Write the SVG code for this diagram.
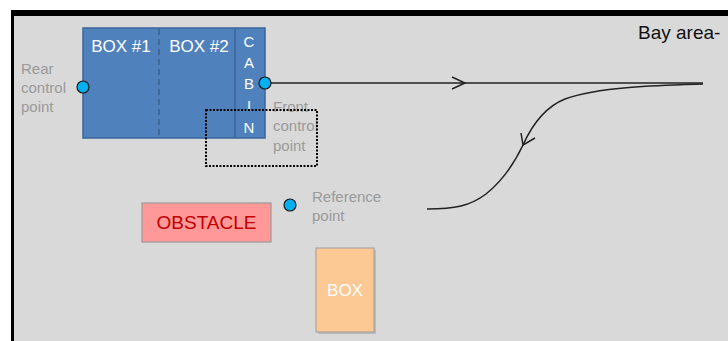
<svg xmlns="http://www.w3.org/2000/svg" width="728" height="341" viewBox="0 0 728 341">
<style>
.lbl{font-family:"Liberation Sans",Arial,sans-serif;font-size:15px;fill:#9a9a9a}
.wt{font-family:"Liberation Sans",Arial,sans-serif;fill:#ffffff}
.pt{fill:#00b0f0;stroke:#1a1a1a;stroke-width:1.2}
.ln{fill:none;stroke:#222;stroke-width:1.5}
</style>
<rect width="728" height="341" fill="#ffffff"/>
<rect x="12" y="13" width="716" height="328" fill="#d9d9d9"/>
<rect x="11" y="10" width="717" height="6" fill="#000"/>
<rect x="11" y="10" width="3" height="331" fill="#000"/>
<text x="638" y="39" font-family="Liberation Sans,Arial,sans-serif" font-size="19" fill="#111">Bay area-</text>
<g id="train">
<rect x="83" y="28" width="182" height="110" fill="#4f81bd" stroke="#3a659a" stroke-width="1.5"/>
<line x1="159" y1="29" x2="159" y2="137" stroke="#3a5f8f" stroke-width="1.5" stroke-dasharray="6,4"/>
<line x1="235" y1="29" x2="235" y2="137" stroke="#3a659a" stroke-width="1.5"/>
<text class="wt" x="121" y="52" font-size="17" text-anchor="middle">BOX #1</text>
<text class="wt" x="199" y="52" font-size="17" text-anchor="middle">BOX #2</text>
<g class="wt" font-size="15" text-anchor="middle">
<text x="249" y="47">C</text>
<text x="249" y="68">A</text>
<text x="249" y="89">B</text>
<text x="249" y="111">I</text>
<text x="249" y="133">N</text>
</g>
</g>
<g id="rear-point">
<circle class="pt" cx="83" cy="87" r="6"/>
<text class="lbl" x="21" y="74">Rear</text>
<text class="lbl" x="21" y="93">control</text>
<text class="lbl" x="21" y="112">point</text>
</g>
<g id="front-point">
<text class="lbl" x="273" y="112">Front</text>
<text class="lbl" x="273" y="131">control</text>
<text class="lbl" x="273" y="151">point</text>
<rect x="206" y="110" width="111" height="56" fill="none" stroke="#000" stroke-width="2" stroke-dasharray="2,1.5"/>
</g>
<g id="connectors">
<line class="ln" x1="265" y1="83" x2="703" y2="83"/>
<polyline class="ln" points="452,77 465,83 452,89"/>
<path class="ln" d="M703,84 C670,85 600,86 565,99 C545,107 532,125 523,145 C512,168 500,183 486,194 C470,206 455,209 427,209"/>
<polyline class="ln" points="521,133 523,145 535,138"/>
</g>
<g id="front-dot"><circle class="pt" cx="265" cy="83" r="6"/></g>
<g id="obstacle">
<rect x="142" y="203" width="129" height="39" fill="#ff9999" stroke="#999" stroke-width="1.2"/>
<text x="206.5" y="229" font-family="Liberation Sans,Arial,sans-serif" font-size="19" fill="#c00000" text-anchor="middle">OBSTACLE</text>
</g>
<g id="reference-point">
<circle class="pt" cx="290" cy="205" r="6"/>
<text class="lbl" x="312" y="202">Reference</text>
<text class="lbl" x="312" y="221">point</text>
</g>
<g id="box">
<rect x="318" y="250" width="58" height="84" fill="#a0a0a0" opacity="0.5"/>
<rect x="316" y="248" width="58" height="84" fill="#fcc994" stroke="#9c9c9c" stroke-width="1"/>
<text x="345" y="296" font-family="Liberation Sans,Arial,sans-serif" font-size="17" fill="#fff" text-anchor="middle">BOX</text>
</g>
</svg>
